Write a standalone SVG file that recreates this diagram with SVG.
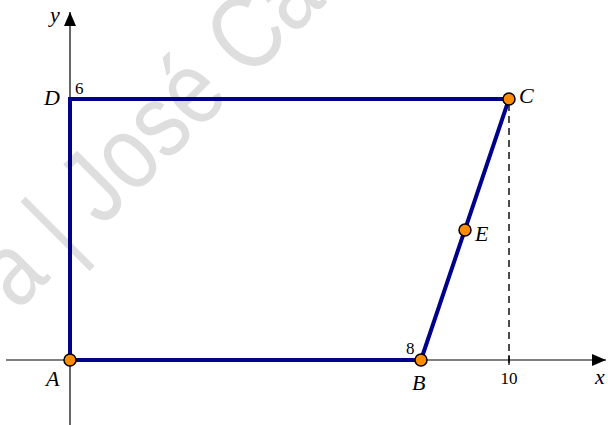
<svg xmlns="http://www.w3.org/2000/svg" width="608" height="425" viewBox="0 0 608 425">
<style>
.wm{font-family:"Liberation Sans",Arial,sans-serif;fill:#dedede}
.axis{stroke:#000;stroke-width:1.2;fill:none}
.side{stroke:#00008b;stroke-width:4;fill:none;stroke-linecap:round}
.dash{stroke:#000;stroke-width:1.4;stroke-dasharray:7 5;fill:none}
.pt{fill:#ff8c00;stroke:#000;stroke-width:1.5}
.lbl{font-family:"Liberation Serif","Times New Roman",serif;font-style:italic;font-size:22px;fill:#000}
.num{font-family:"Liberation Serif","Times New Roman",serif;font-size:17px;fill:#000}
</style>
<defs>
<marker id="arr" viewBox="0 0 14 12" refX="14" refY="6" markerWidth="14" markerHeight="12" markerUnits="userSpaceOnUse" orient="auto">
<path d="M0,0 L14,6 L0,12 Z" fill="#000"/>
</marker>
</defs>
<g id="watermark" transform="translate(58,234) rotate(-45) scale(1,1.2)">
<text class="wm" x="-84" y="22" font-size="87">a | José Car</text>
</g>
<g id="axes">
<line class="axis" x1="6" y1="360" x2="606" y2="360" marker-end="url(#arr)"/>
<line class="axis" x1="70" y1="425" x2="70" y2="12" marker-end="url(#arr)"/>
<text class="lbl" x="50" y="22">y</text>
<text class="lbl" x="595" y="384">x</text>
<line class="axis" x1="509" y1="355" x2="509" y2="365"/>
<text class="num" x="509" y="384" text-anchor="middle">10</text>
<text class="num" x="75" y="94">6</text>
<text class="num" x="406" y="354">8</text>
</g>
<g id="connectors">
<line class="dash" x1="509" y1="104" x2="509" y2="367"/>
<polyline class="side" points="421,360 70,360 70,99 509,99"/>
<line class="side" x1="509" y1="99" x2="421" y2="360"/>
</g>
<g id="node-A"><circle class="pt" cx="70" cy="360" r="6"/><text class="lbl" x="46" y="386">A</text></g>
<g id="node-B"><circle class="pt" cx="421" cy="360" r="6"/><text class="lbl" x="412" y="390">B</text></g>
<g id="node-C"><circle class="pt" cx="509" cy="99" r="6"/><text class="lbl" x="519" y="103">C</text></g>
<g id="node-D"><text class="lbl" x="44" y="105">D</text></g>
<g id="node-E"><circle class="pt" cx="465" cy="230" r="6"/><text class="lbl" x="475" y="241">E</text></g>
</svg>
